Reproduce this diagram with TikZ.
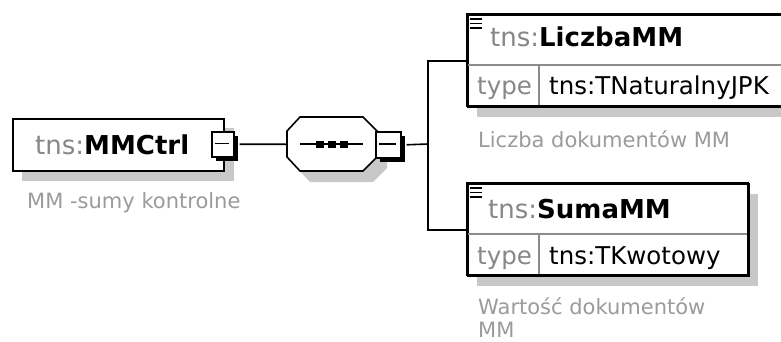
\documentclass[tikz,border=0pt]{standalone}
\usepackage{fontspec}
\setmainfont{DejaVu Sans}
\definecolor{shadowgray}{RGB}{200,200,200}
\definecolor{prefixgray}{RGB}{135,135,135}
\definecolor{descgray}{RGB}{155,155,155}
\definecolor{divgray}{RGB}{140,140,140}
\begin{document}
\begin{tikzpicture}[x=1pt,y=-1pt,
  conn/.style={draw=black,line width=1.6pt},
  elembox/.style={draw=black,line width=1.8pt,fill=white,anchor=north west,inner sep=0pt},
  minusbox/.style={draw=black,line width=1.6pt,fill=white,anchor=north west,inner sep=0pt,minimum width=22pt,minimum height=25pt},
  divider/.style={draw=divgray,line width=1.3pt},
  hdr/.style={anchor=base west,inner sep=0pt,font=\fontsize{26}{30}\selectfont},
  typetxt/.style={anchor=base west,inner sep=0pt,font=\fontsize{24.5}{28}\selectfont},
  desc/.style={anchor=base west,inner sep=0pt,text=descgray,font=\fontsize{21}{25}\selectfont},
  icon/.style={draw=black,line width=1.6pt}
]
\useasboundingbox (0,0) rectangle (781,342);
\clip (0,0) rectangle (781,342);
\fill[white] (0,0) rectangle (781,342);

% invisible anchor nodes
\node[minimum width=90pt,minimum height=54pt,inner sep=0pt,anchor=north west] (seq) at (287,117) {};
\coordinate (fork) at (428,144);

% shadows
\fill[shadowgray] (22,128) rectangle (234,181);
\fill[shadowgray] (297,128) -- (373,128) -- (387,142) -- (387,168) -- (373,182) -- (310,182) -- (297,168) -- cycle;
\fill[shadowgray] (477,25) rectangle (800,117);
\fill[shadowgray] (477,194) rectangle (758,286);

% main boxes
\node[elembox,minimum width=211pt,minimum height=52pt] (mmctrl) at (12,118) {};
\node[elembox,minimum width=340pt,minimum height=92pt] (liczba) at (467,14) {};
\node[elembox,minimum width=281pt,minimum height=92pt] (suma) at (467,183) {};

% sequence compositor octagon
\draw[line width=1.6pt,fill=white] (300,117) -- (363,117) -- (377,131) -- (377,157) -- (363,171) -- (300,171) -- (287,157) -- (287,131) -- cycle;
\draw[line width=1.6pt] (300,144) -- (363,144);
\foreach \cx in {320,332,344} \fill[black] (\cx-4,140.5) rectangle (\cx+4,147.5);

% minus boxes
\fill[black] (216,136) rectangle (238,161);
\node[minusbox] (mmminus) at (211,131) {};
\draw[line width=1.5pt] (215,143.5) -- (229,143.5);
\fill[black] (380,136) rectangle (405,162);
\node[minusbox,minimum width=25pt,minimum height=26pt] (seqminus) at (375,131) {};
\draw[line width=1.5pt] (379,144) -- (396,144);

% connectors
\draw[conn] ([xshift=5pt]mmminus.east) -- (seq.west);
\draw[conn] ([xshift=5pt]seqminus.east) -- (fork);
\draw[conn] (fork) |- (liczba.west);
\draw[conn] (fork) |- (suma.west);

% dividers
\draw[divider] (468,65) -- (800,65);
\draw[divider] (539,65) -- (539,105);
\draw[divider] (468,234) -- (747,234);
\draw[divider] (539,234) -- (539,274);
\draw[line width=1.8pt] (467,14) rectangle (807,106);
\draw[line width=1.8pt] (467,183) rectangle (748,275);

% element icons
\foreach \yy in {19,23.5,28} \draw[icon] (470,\yy) -- (482,\yy);
\foreach \yy in {188,192.5,197} \draw[icon] (470,\yy) -- (482,\yy);

% texts
\node[hdr] (t1) at (35,154) {\textcolor{prefixgray}{tns:}\textbf{MMCtrl}};
\node[hdr] (t2) at (490,47) {\textcolor{prefixgray}{tns:}\textbf{LiczbaMM}};
\node[hdr] (t3) at (488,218) {\textcolor{prefixgray}{tns:}\textbf{SumaMM}};
\node[typetxt,text=prefixgray] (t4) at (477,95) {type};
\node[typetxt] (t5) at (549,95) {tns:TNaturalnyJPK};
\node[typetxt,text=prefixgray] (t6) at (477,264) {type};
\node[typetxt] (t7) at (549,264) {tns:TKwotowy};
\node[desc] (d1) at (27,208) {MM -sumy kontrolne};
\node[desc] (d2) at (478,147) {Liczba dokumentów MM};
\node[desc] (d3) at (478,314) {Wartość dokumentów};
\node[desc] (d4) at (478,337) {MM};
\end{tikzpicture}
\end{document}
